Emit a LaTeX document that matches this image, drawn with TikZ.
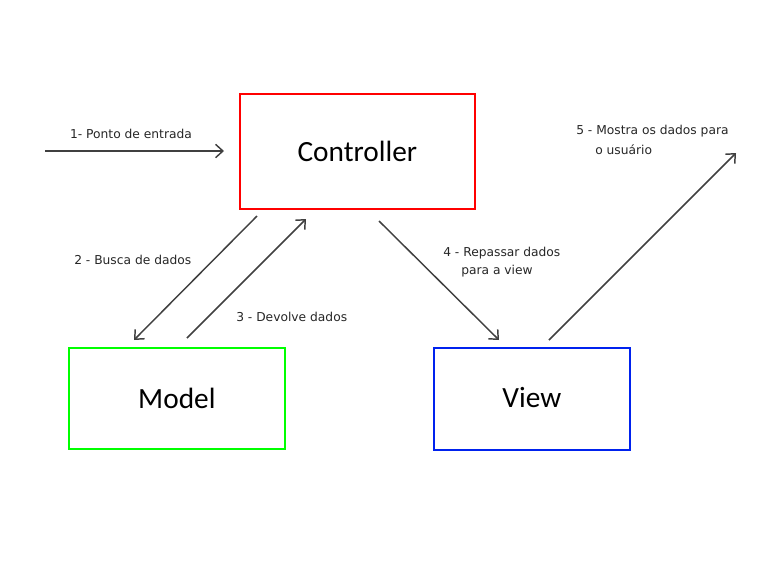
\documentclass[tikz,border=0pt]{standalone}
\usepackage{fontspec}
\setmainfont{DejaVu Sans}
\newfontfamily\boxfont{Carlito}
\usetikzlibrary{arrows.meta}
\definecolor{arrowgray}{HTML}{404040}
\definecolor{ctrlred}{HTML}{FF0000}
\definecolor{modelgreen}{HTML}{00FF00}
\definecolor{viewblue}{HTML}{0022EE}
\tikzset{
  component/.style={draw, line width=1.3pt, inner sep=0pt, anchor=north west,
    font=\boxfont\fontsize{22}{26}\selectfont, text=black},
  flow/.style={draw=arrowgray, line width=1.1pt,
    -{Straight Barb[length=5.5pt,width=10pt,line width=1.1pt]}},
  note/.style={font=\fontsize{9.2}{13.5}\selectfont, text=black!85, inner sep=0pt, align=left}
}
\begin{document}
\begin{tikzpicture}[x=0.75pt,y=-0.75pt]
  \useasboundingbox (0,0) rectangle (763,572);

  % components
  \node[component, draw=ctrlred, minimum width=235*0.75pt, minimum height=115*0.75pt] (ctrl) at (239,93) {Controller};
  \node[component, draw=modelgreen, minimum width=216*0.75pt, minimum height=101*0.75pt] (model) at (68,347) {Model};
  \node[component, draw=viewblue, minimum width=196*0.75pt, minimum height=102*0.75pt] (view) at (433,347) {\raisebox{2pt}{View}};

  % connector end points
  \coordinate (in) at (45,151);
  \coordinate (inEnd) at (224,151);
  \coordinate (c2) at (257,216);
  \coordinate (m2) at (134,340);
  \coordinate (m3) at (187,338);
  \coordinate (c3) at (306,219);
  \coordinate (c4) at (379,221);
  \coordinate (v4) at (499,340);
  \coordinate (v5) at (549,340);
  \coordinate (out) at (736,153);

  % connectors
  \draw[flow] (in) -- (inEnd);
  \draw[flow] (c2) -- (m2);
  \draw[flow] (m3) -- (c3);
  \draw[flow] (c4) -- (v4);
  \draw[flow] (v5) -- (out);

  % step labels
  \node[note] (l1) at (131,133.5) {1- Ponto de entrada};
  \node[note, anchor=west] (l2) at (74,259.5) {2 - Busca de dados};
  \node[note, anchor=west] (l3) at (236,316.5) {3 - Devolve dados};
  \node[note, anchor=west] (l4) at (443,253.5) {4 - Repassar dados};
  \node[note, anchor=west] (l4b) at (461,271.5) {para a view};
  \node[note, anchor=west] (l5) at (576,131.5) {5 - Mostra os dados para};
  \node[note, anchor=west] (l5b) at (595,149.5) {o usuário};
\end{tikzpicture}
\end{document}
